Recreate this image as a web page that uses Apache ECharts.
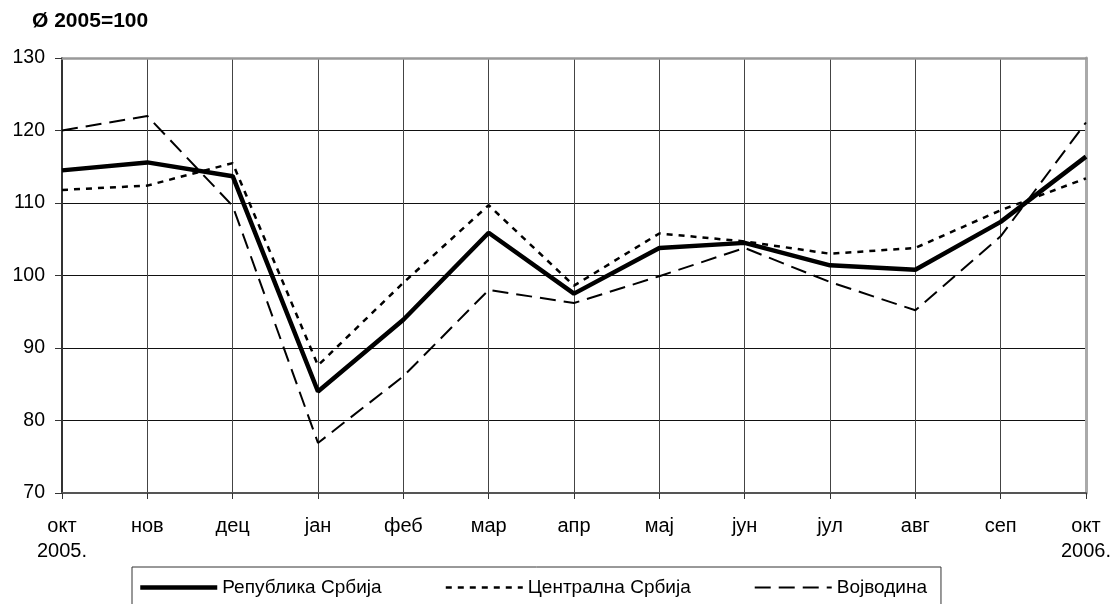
<!DOCTYPE html>
<html>
<head>
<meta charset="utf-8">
<script src="https://cdn.jsdelivr.net/npm/echarts@6/dist/echarts.min.js"></script>
<style>
html,body{margin:0;padding:0;background:#fff;}
#chart{width:1114px;height:604px;}
</style>
</head>
<body>
<div id="chart"></div>
<script>
const categories = ['окт\n2005.', 'нов', 'дец', 'јан', 'феб', 'мар', 'апр', 'мај', 'јун', 'јул', 'авг', 'сеп', 'окт\n2006.'];
const seriesNames = ['Република Србија', 'Централна Србија', 'Војводина'];
const republika = [114.5, 115.6, 113.7, 84.0, 93.9, 105.9, 97.5, 103.8, 104.5, 101.4, 100.8, 107.4, 116.4];
const centralna = [111.8, 112.4, 115.5, 87.6, 99.0, 109.7, 98.6, 105.8, 104.7, 103.0, 103.8, 109.0, 113.4];
const vojvodina = [120.0, 122.0, 109.6, 76.9, 86.1, 98.0, 96.2, 99.9, 103.8, 99.1, 95.2, 105.4, 121.1];
const yMin = 70, yMax = 130, yStep = 10;
const unitLabel = 'Ø 2005=100';

const FONT = '"Liberation Sans", Arial, sans-serif';
const styles = {
  [seriesNames[0]]: {color: '#000', width: 4.5, type: 'solid'},
  [seriesNames[1]]: {color: '#000', width: 2.5, type: [6, 6]},
  [seriesNames[2]]: {color: '#000', width: 2, type: [16, 8]}
};
const chart = echarts.init(document.getElementById('chart'), null, {renderer: 'canvas'});
chart.setOption({
  animation: false,
  backgroundColor: '#fff',
  textStyle: {fontFamily: FONT, color: '#000'},
  title: {
    text: unitLabel, left: 27, top: 6,
    textStyle: {fontFamily: FONT, fontSize: 21, fontWeight: 'bold', color: '#000'}
  },
  grid: {left: 62, right: 26, top: 58, bottom: 111, containLabel: false},
  legend: {
    data: seriesNames.map(n => ({name: n, lineStyle: styles[n]})),
    left: 132, top: 567,
    orient: 'horizontal',
    itemWidth: 77, itemHeight: 14, itemGap: 63,
    padding: [11, 14, 20, 6],
    borderColor: '#333', borderWidth: 1,
    itemStyle: {opacity: 0},
    textStyle: {fontFamily: FONT, fontSize: 19, color: '#000'}
  },
  xAxis: [{
    type: 'category', data: categories, boundaryGap: false,
    axisLine: {lineStyle: {color: '#555', width: 2}},
    axisTick: {show: true, inside: false, length: 6, lineStyle: {color: '#333', width: 1}},
    axisLabel: {fontFamily: FONT, fontSize: 20, color: '#000', lineHeight: 25, margin: 21, interval: 0},
    splitLine: {show: true, lineStyle: {color: '#444', width: 1}}
  }, {
    type: 'category', data: categories, boundaryGap: false, position: 'top',
    axisLine: {lineStyle: {color: '#999', width: 2.5}},
    axisTick: {show: false}, axisLabel: {show: false}, splitLine: {show: false}
  }],
  yAxis: [{
    type: 'value', min: yMin, max: yMax, interval: yStep,
    axisLine: {show: true, lineStyle: {color: '#333', width: 2}},
    axisTick: {show: true, inside: false, length: 7, lineStyle: {color: '#333', width: 1}},
    axisLabel: {fontFamily: FONT, fontSize: 19.5, color: '#000', margin: 17},
    splitLine: {show: true, lineStyle: {color: '#111', width: 1}}
  }, {
    type: 'value', min: yMin, max: yMax, interval: yStep, position: 'right',
    axisLine: {show: true, lineStyle: {color: '#aaa', width: 3}},
    axisTick: {show: false}, axisLabel: {show: false}, splitLine: {show: false}
  }],
  series: [
    {
      name: seriesNames[2], type: 'line', data: vojvodina, symbol: 'none', z: 3,
      itemStyle: {color: '#000'}, lineStyle: styles[seriesNames[2]]
    },
    {
      name: seriesNames[1], type: 'line', data: centralna, symbol: 'none', z: 4,
      itemStyle: {color: '#000'}, lineStyle: styles[seriesNames[1]]
    },
    {
      name: seriesNames[0], type: 'line', data: republika, symbol: 'none', z: 5,
      itemStyle: {color: '#000'}, lineStyle: styles[seriesNames[0]]
    }
  ]
});
</script>
</body>
</html>
